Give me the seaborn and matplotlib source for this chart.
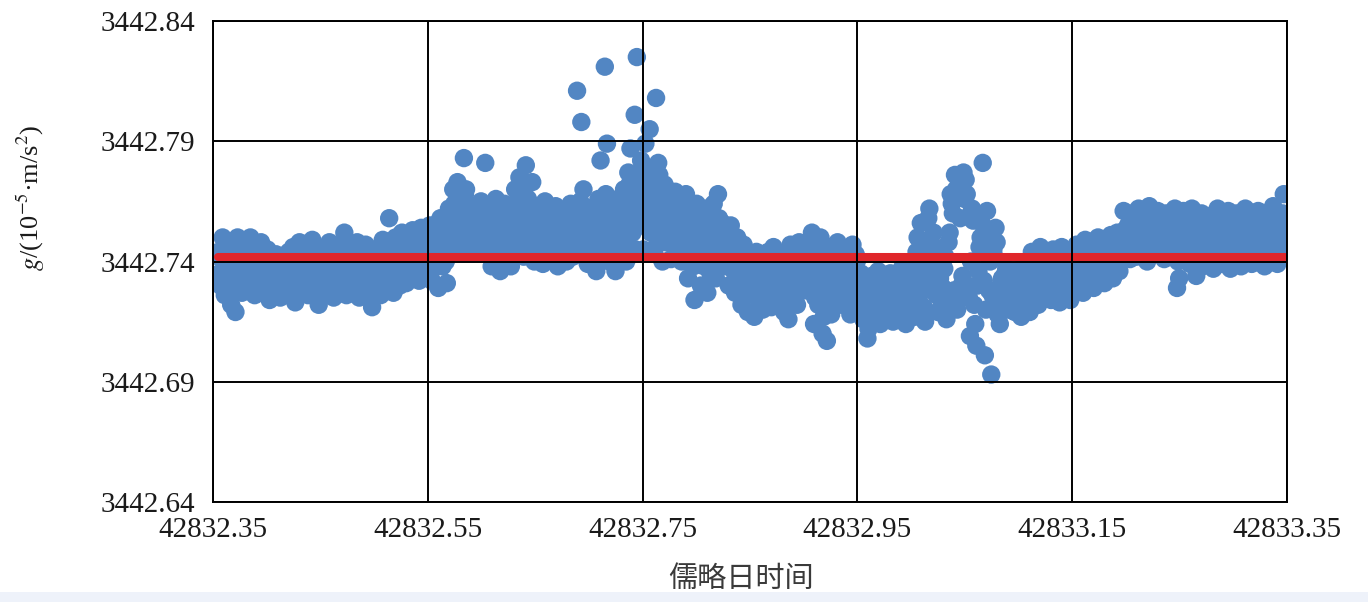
import numpy as np
import pandas as pd
import matplotlib
matplotlib.use("Agg")
import matplotlib.pyplot as plt
import seaborn as sns
from matplotlib.patches import Rectangle

# ---------------- data ----------------
t_start, t_end = 42832.355, 42833.347          # Julian-day span of the samples
g_base = 3442.70                               # 10^-5 m/s^2
g_mean = 3442.742                              # mean value (red line)
# deviations from g_base in units of 0.001 x 10^-5 m/s^2, in time order
# (first pass: samples on the main time grid)
g_dev = [
    44, 30, 50, 26, 38, 48, 22, 42, 19, 50, 33, 27, 47, 36, 29, 50, 40, 26, 45, 32, 48, 28, 38, 45, 24,
    40, 27, 43, 33, 25, 42, 36, 28, 44, 31, 46, 23, 38, 48, 27, 34, 47, 26, 41, 49, 30, 37, 22, 45, 33,
    42, 27, 48, 35, 25, 44, 31, 47, 38, 52, 26, 40, 46, 29, 36, 48, 25, 42, 33, 47, 28, 39, 21, 45, 30,
    44, 26, 49, 35, 29, 58, 41, 27, 50, 37, 30, 52, 44, 31, 48, 38, 53, 33, 46, 32, 54, 40, 49, 35, 55,
    32, 55, 44, 29, 58, 38, 50, 31, 62, 45, 70, 52, 73, 60, 44, 83, 70, 55, 47, 63, 50, 58, 45, 65, 52,
    81, 48, 62, 38, 55, 66, 44, 36, 58, 64, 42, 52, 38, 61, 70, 47, 75, 56, 42, 80, 66, 50, 73, 40, 60,
    46, 62, 39, 65, 52, 41, 58, 47, 63, 38, 55, 44, 60, 40, 50, 64, 42, 57, 111, 46, 98, 70, 52, 39, 62,
    44, 60, 36, 66, 82, 50, 121, 89, 40, 62, 54, 36, 66, 45, 58, 70, 40, 77, 87, 52, 101, 125, 64, 82, 45,
    89, 56, 95, 74, 44, 108, 81, 62, 40, 72, 50, 66, 41, 58, 69, 46, 63, 40, 55, 68, 33, 60, 45, 24, 64,
    58, 30, 48, 62, 27, 52, 40, 64, 33, 68, 45, 56, 38, 50, 30, 55, 42, 27, 50, 35, 22, 47, 30, 19, 40,
    30, 17, 44, 25, 36, 20, 42, 28, 34, 21, 46, 31, 38, 24, 43, 19, 33, 16, 47, 27, 37, 22, 48, 32, 41,
    28, 45, 35, 52, 14, 40, 22, 50, 10, 33, 7, 46, 18, 38, 27, 48, 31, 22, 44, 35, 26, 18, 47, 30, 40,
    25, 35, 16, 30, 8, 22, 34, 18, 28, 36, 14, 25, 33, 19, 29, 35, 15, 24, 32, 18, 37, 27, 14, 31, 22,
    30, 17, 44, 25, 56, 36, 15, 48, 62, 28, 52, 40, 19, 33, 24, 37, 16, 48, 68, 60, 76, 20, 72, 30, 77,
    74, 30, 9, 62, 22, 5, 36, 50, 81, 1, 61, 28, -7, 45, 54, 18, 14, 33, 24, 37, 20, 30, 36, 19, 27,
    34, 17, 38, 24, 31, 19, 44, 28, 36, 22, 46, 32, 25, 41, 35, 24, 45, 30, 38, 23, 46, 33, 27, 42, 24,
    38, 28, 47, 34, 42, 27, 49, 36, 30, 45, 29, 40, 50, 33, 44, 31, 48, 37, 51, 33, 43, 52, 36, 46, 61,
    44, 55, 41, 60, 49, 42, 62, 52, 45, 58, 40, 63, 50, 43, 57, 61, 46, 53, 41, 60, 48, 55, 42, 62, 29,
    33, 50, 61, 43, 55, 39, 62, 47, 34, 57, 44, 38, 58, 50, 42, 59, 37, 53, 62, 45, 39, 56, 49, 61, 37,
    52, 40, 60, 46, 38, 56, 62, 43, 51, 39, 59, 47, 61, 41, 54, 38, 60, 48, 42, 63, 52, 39, 57, 45, 68,
]
# (second pass: samples half a step later)
g_dev_b = [
    35, 41, 29, 45, 33, 38, 27, 44, 31, 36, 42, 30, 39, 34, 45, 28, 37, 43, 31, 40, 35, 29, 42, 36, 33,
    34, 38, 30, 36, 41, 29, 33, 39, 36, 27, 40, 35, 31, 42, 37, 29, 39, 33, 44, 36, 28, 41, 34, 30, 39,
    36, 31, 40, 29, 38, 34, 42, 27, 36, 41, 33, 30, 38, 44, 35, 40, 31, 37, 29, 42, 36, 33, 27, 38, 35,
    36, 40, 33, 43, 38, 46, 34, 41, 37, 44, 40, 35, 47, 42, 38, 44, 36, 48, 41, 45, 38, 50, 43, 46, 40,
    42, 48, 38, 51, 45, 53, 40, 55, 49, 58, 64, 48, 66, 54, 60, 68, 50, 58, 62, 52, 56, 49, 60, 54, 58,
    56, 44, 52, 58, 47, 60, 42, 54, 50, 62, 45, 57, 49, 53, 64, 58, 67, 61, 48, 72, 54, 63, 58, 46, 56,
    54, 48, 58, 44, 60, 50, 56, 45, 52, 61, 47, 55, 42, 58, 51, 46, 60, 53, 49, 65, 44, 58, 62, 47, 55,
    52, 63, 47, 58, 42, 55, 68, 46, 51, 60, 44, 57, 62, 49, 54, 64, 48, 72, 58, 68, 45, 76, 55, 70, 62,
    66, 78, 52, 70, 60, 47, 76, 55, 65, 48, 61, 57, 52, 64, 45, 59, 54, 66, 49, 58, 44, 52, 38, 56, 47,
    44, 53, 38, 57, 48, 35, 60, 44, 52, 58, 40, 48, 53, 45, 42, 48, 36, 44, 39, 32, 42, 26, 36, 33, 28,
    26, 38, 31, 22, 40, 34, 28, 44, 25, 36, 30, 41, 27, 35, 23, 39, 30, 42, 25, 33, 44, 28, 38, 35, 44,
    38, 44, 30, 47, 25, 42, 36, 29, 17, 40, 34, 24, 42, 31, 38, 44, 29, 40, 33, 45, 24, 38, 32, 43, 35,
    28, 20, 32, 26, 12, 29, 24, 31, 21, 33, 27, 17, 30, 25, 35, 22, 28, 19, 34, 26, 30, 21, 33, 25, 28,
    24, 38, 50, 32, 44, 21, 30, 58, 42, 35, 46, 26, 30, 21, 29, 42, 23, 52, 64, 28, 70, 25, 58, 34, 66,
    68, 25, 40, 57, 14, 30, 46, 56, 32, 20, 50, 40, 26, 42, 48, 24, 30, 21, 35, 28, 33, 26, 32, 23, 35,
    28, 35, 22, 40, 30, 26, 38, 33, 42, 29, 36, 40, 28, 34, 43, 30, 38, 27, 42, 33, 36, 30, 44, 35, 32,
    34, 43, 38, 46, 32, 40, 44, 37, 48, 35, 42, 46, 38, 43, 36, 47, 41, 45, 39, 49, 42, 38, 48, 44, 53,
    50, 46, 55, 44, 58, 52, 48, 56, 61, 46, 53, 50, 59, 45, 54, 48, 57, 51, 44, 56, 50, 58, 47, 54, 40,
    46, 54, 41, 58, 50, 44, 56, 48, 53, 40, 60, 46, 52, 55, 44, 50, 58, 47, 42, 54, 50, 57, 44, 52, 48,
    47, 55, 50, 44, 58, 52, 46, 56, 43, 53, 49, 58, 45, 52, 57, 47, 55, 44, 51, 58, 46, 54, 49, 60, 50,
]
x_ticks = [42832.35, 42832.55, 42832.75, 42832.95, 42833.15, 42833.35]
x_tick_labels = ["42832.35", "42832.55", "42832.75", "42832.95", "42833.15", "42833.35"]
y_ticks = [3442.64, 3442.69, 3442.74, 3442.79, 3442.84]
y_tick_labels = ["3442.64", "3442.69", "3442.74", "3442.79", "3442.84"]
x_label = "儒略日时间"
y_label = r"$g$/(10$^{-5}$·m/s$^{2}$)"

n = len(g_dev)
t_a = np.linspace(t_start, t_end, n)
t_b = t_a + (t_a[1] - t_a[0]) / 2
t = np.concatenate([t_a, t_b])
g = g_base + np.concatenate([np.array(g_dev), np.array(g_dev_b)]) / 1000.0
order = np.argsort(t, kind="stable")
df = pd.DataFrame({"t": t[order], "g": g[order]})
df["g_mean"] = g_mean

# ---------------- style ----------------
sns.set_theme(style="white")
plt.rcParams["font.family"] = ["Liberation Serif", "DejaVu Serif"]
plt.rcParams["mathtext.fontset"] = "stix"

fig = plt.figure(figsize=(13.68, 6.02), dpi=100)
fig.patch.set_facecolor("white")
ax = fig.add_axes([213 / 1368, 1 - 502 / 602, 1074 / 1368, 481 / 602])

sns.scatterplot(data=df, x="t", y="g", ax=ax, s=175, color="#5286c3",
                linewidth=0, edgecolor="none", zorder=1, legend=False)
sns.lineplot(data=df, x="t", y="g_mean", ax=ax, color="#e0262b",
             linewidth=5.8, zorder=2, legend=False)

ax.set_xlim(x_ticks[0], x_ticks[-1])
ax.set_ylim(y_ticks[0], y_ticks[-1])
ax.set_xticks(x_ticks, labels=x_tick_labels)
ax.set_yticks(y_ticks, labels=y_tick_labels)
ax.set_axisbelow(False)
ax.grid(True, color="black", linewidth=1.4)
for sp in ax.spines.values():
    sp.set_color("black")
    sp.set_linewidth(1.4)
ax.tick_params(axis="both", length=0, colors="#1a1a1a")
ax.tick_params(axis="x", pad=11, labelsize=21)
ax.tick_params(axis="y", pad=13, labelsize=21)

ax.set_xlabel(x_label, family=["Noto Sans CJK SC", "DejaVu Sans"], fontsize=21,
              color="#3a3a3a")
ax.xaxis.set_label_coords(0.4916, -0.128)
ax.set_ylabel(y_label, fontsize=19, color="#1a1a1a")
ax.yaxis.set_label_coords(-0.155, 0.632)

# faint band at the very bottom of the image
fig.patches.append(Rectangle((0, 0), 1, 10 / 602, transform=fig.transFigure,
                             facecolor="#eef2fa", edgecolor="none", zorder=0))

fig.savefig("out.png", dpi=100)
